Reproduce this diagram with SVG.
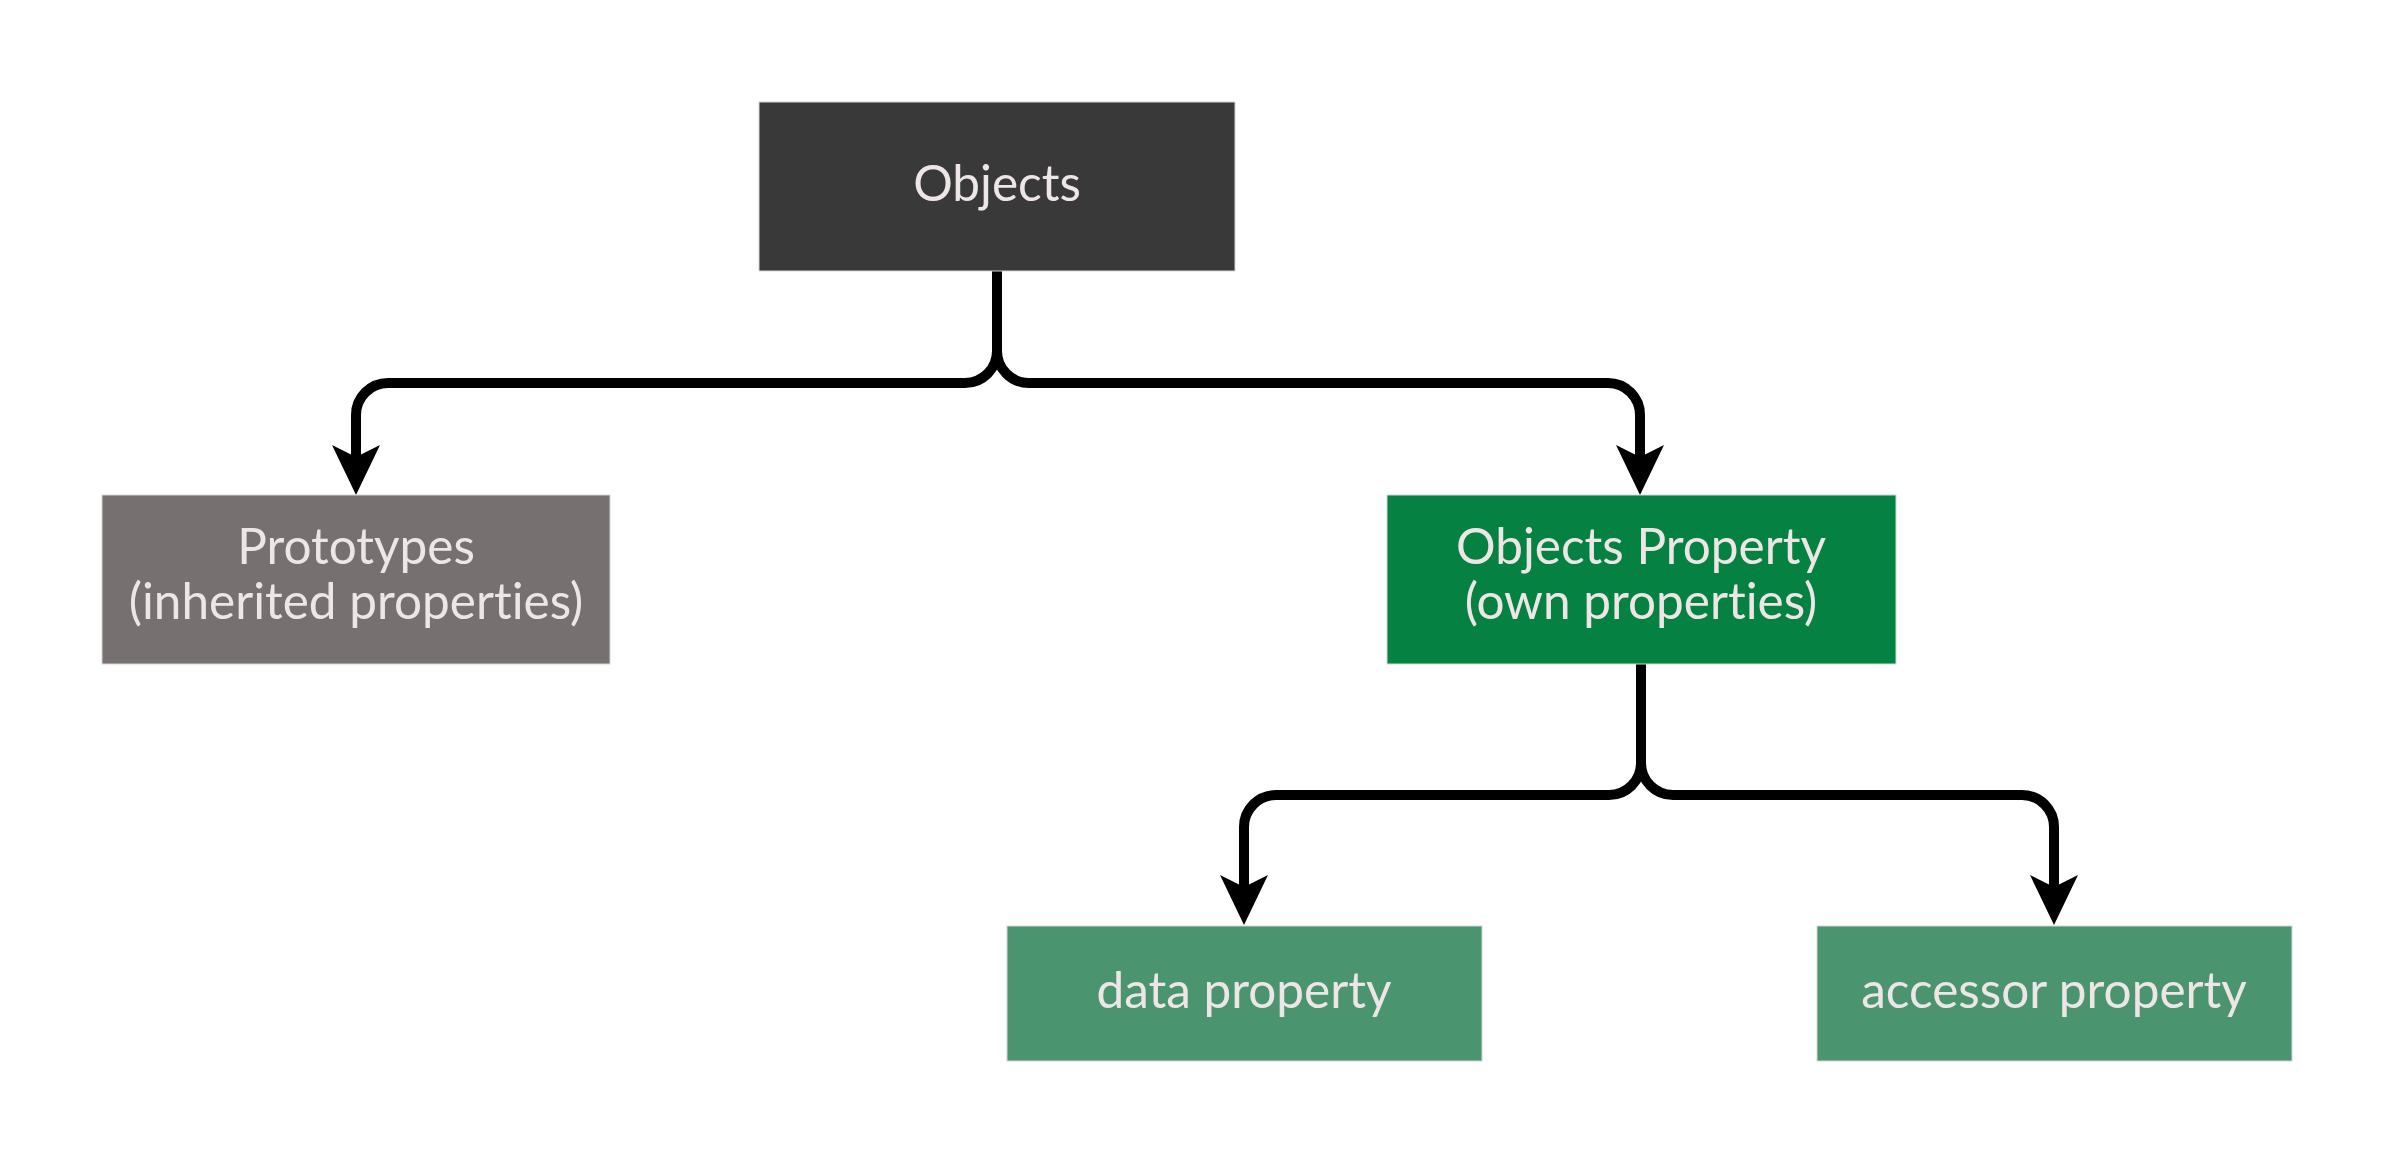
<svg xmlns="http://www.w3.org/2000/svg" width="2394" height="1163" viewBox="0 0 2394 1163">
  <style>
    .box { stroke: #d6d6d6; stroke-width: 1; }
    .lbl { font-family: Lato, "Noto Sans", sans-serif; font-size: 49.5px; fill: #eee6e6; text-anchor: middle; font-variant-ligatures: none; }
    .conn { fill: none; stroke: #000; stroke-width: 10; stroke-linecap: round; stroke-linejoin: round; }
  </style>
  <defs>
    <marker id="arrow" markerUnits="userSpaceOnUse" markerWidth="50" markerHeight="48" viewBox="0 0 50 48" refX="12" refY="24" orient="auto">
      <path d="M0,0 L50,24 L0,48 L12,24 Z" fill="#000"/>
    </marker>
  </defs>
  <rect width="2394" height="1163" fill="#ffffff"/>

  <g id="connectors">
    <path class="conn" d="M997,272 V351 A32,32 0 0 1 965,383 H388 A32,32 0 0 0 356,415 V457" marker-end="url(#arrow)"/>
    <path class="conn" d="M997,272 V351 A32,32 0 0 0 1029,383 H1608 A32,32 0 0 1 1640,415 V457" marker-end="url(#arrow)"/>
    <path class="conn" d="M1641,664 V763 A32,32 0 0 1 1609,795 H1276 A32,32 0 0 0 1244,827 V887" marker-end="url(#arrow)"/>
    <path class="conn" d="M1641,664 V763 A32,32 0 0 0 1673,795 H2022 A32,32 0 0 1 2054,827 V887" marker-end="url(#arrow)"/>
  </g>

  <g id="objects">
    <rect class="box" x="759" y="102" width="476" height="169" fill="#393939"/>
    <text class="lbl" x="997" y="201">Objects</text>
  </g>

  <g id="prototypes">
    <rect class="box" x="102" y="495" width="508" height="169" fill="#767070"/>
    <text class="lbl" x="356" y="564">Prototypes</text>
    <text class="lbl" x="356" y="619">(inherited properties)</text>
  </g>

  <g id="objects-property">
    <rect class="box" x="1387" y="495" width="509" height="169" fill="#058142"/>
    <text class="lbl" x="1641" y="564">Objects Property</text>
    <text class="lbl" x="1641" y="619">(own properties)</text>
  </g>

  <g id="data-property">
    <rect class="box" x="1007" y="926" width="475" height="135" fill="#4a946f"/>
    <text class="lbl" x="1244" y="1008">data property</text>
  </g>

  <g id="accessor-property">
    <rect class="box" x="1817" y="926" width="475" height="135" fill="#4a946f"/>
    <text class="lbl" x="2054" y="1008">accessor property</text>
  </g>
</svg>
